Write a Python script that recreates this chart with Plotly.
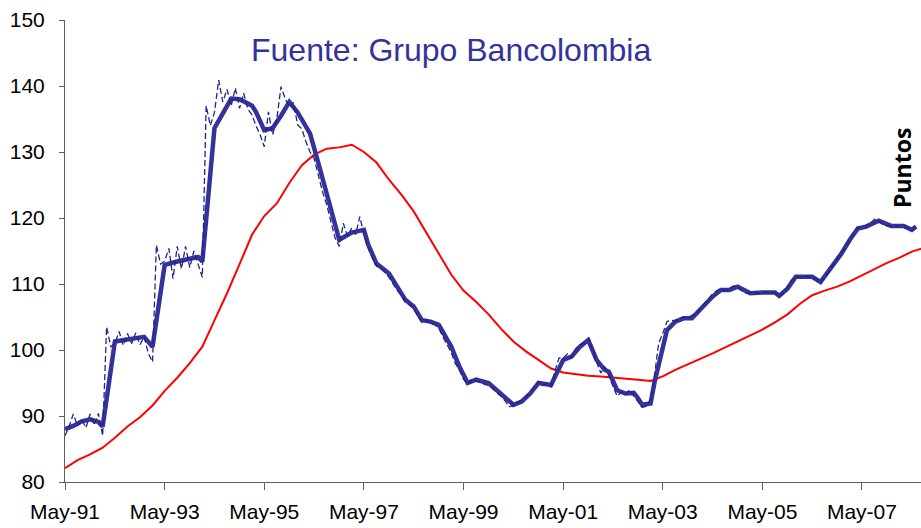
import pandas as pd
import plotly.graph_objects as go

# monthly index, dashed thin line (May-91 .. Jun-08)
mensual = [
    87.0, 88.5, 90.3, 88.5, 89.5, 88.2, 90.3, 88.6, 90.4, 87.0, 103.5, 100.5,
    101.0, 102.8, 100.7, 102.5, 101.0, 102.6, 100.8, 102.0, 99.5, 98.2, 115.9, 113.0,
    113.5, 115.4, 110.8, 115.7, 112.3, 115.7, 112.5, 115.0, 113.0, 111.0, 137.0, 134.0,
    136.0, 140.9, 137.6, 139.5, 137.0, 139.7, 136.6, 138.9, 136.5, 135.6, 134.0, 132.6,
    130.8, 136.1, 132.6, 135.0, 139.9, 138.1, 136.8, 137.5, 134.1, 133.5, 131.6, 130.0,
    129.0, 126.5, 124.0, 122.0, 119.5, 117.0, 115.7, 119.2, 117.2, 118.5, 117.5, 120.2,
    117.5, 115.5, 114.0, 112.7, 112.5, 111.8, 111.0, 110.0, 109.0, 108.3, 107.2, 106.8,
    106.3, 105.2, 104.2, 104.6, 104.0, 103.9, 103.3, 102.0, 100.8, 99.6, 98.0, 97.0,
    95.6, 94.8, 95.6, 95.3, 95.2, 94.8, 94.6, 94.2, 93.5, 93.0, 92.3, 91.4,
    91.6, 92.0, 92.4, 92.8, 93.6, 94.3, 95.2, 94.6, 94.9, 94.4, 96.8, 98.8,
    98.8, 99.4, 98.8, 100.2, 100.8, 101.0, 101.8, 100.2, 98.2, 96.5, 97.5, 96.2,
    94.5, 93.0, 93.6, 93.2, 94.0, 93.0, 92.2, 91.3, 91.5, 92.5, 96.0, 101.0,
    102.5, 104.3, 104.5, 104.4, 104.7, 105.0, 104.9, 105.2, 105.6, 106.3, 107.0, 107.9,
    108.5, 109.0, 109.3, 109.0, 109.3, 109.7, 109.6, 109.0, 108.6, 108.6, 108.8, 108.6,
    108.7, 108.8, 108.6, 108.7, 108.1, 108.6, 109.6, 110.6, 111.2, 111.0, 111.2, 111.1,
    111.1, 110.7, 110.2, 111.0, 112.0, 112.8, 113.8, 114.8, 115.6, 116.8, 117.8, 118.6,
    118.6, 118.9, 119.2, 119.8, 119.6, 119.0, 118.8, 118.8, 118.9, 118.7, 118.8, 118.5,
    118.1, 118.8,
]

# smoothed series, thick line
fechas_suav = [
    "1991-05", "1991-07", "1991-09", "1991-11", "1992-01", "1992-02", "1992-05", "1992-08",
    "1992-12", "1993-02", "1993-05", "1993-08", "1994-01", "1994-02", "1994-05", "1994-09",
    "1994-11", "1995-02", "1995-03", "1995-05", "1995-07", "1995-09", "1995-11", "1996-01",
    "1996-04", "1996-06", "1996-08", "1996-11", "1997-02", "1997-05", "1997-06", "1997-08",
    "1997-11", "1998-01", "1998-03", "1998-05", "1998-07", "1998-09", "1998-11", "1999-02",
    "1999-04", "1999-06", "1999-08", "1999-11", "2000-01", "2000-05", "2000-07", "2000-09",
    "2000-11", "2001-02", "2001-05", "2001-07", "2001-09", "2001-11", "2002-01", "2002-03",
    "2002-04", "2002-06", "2002-08", "2002-10", "2002-11", "2002-12", "2003-02", "2003-03",
    "2003-05", "2003-06", "2003-08", "2003-10", "2003-12", "2004-02", "2004-05", "2004-07",
    "2004-09", "2004-11", "2005-02", "2005-05", "2005-08", "2005-09", "2005-11", "2006-01",
    "2006-05", "2006-07", "2006-09", "2006-12", "2007-02", "2007-04", "2007-06", "2007-09",
    "2007-12", "2008-03", "2008-05", "2008-06",
]
suavizado = [
    88.0, 88.5, 89.2, 89.5, 89.1, 88.4, 101.3, 101.6,
    102.0, 100.5, 112.9, 113.4, 114.1, 113.4, 133.6, 138.1,
    138.0, 137.0, 136.1, 133.3, 133.6, 135.5, 137.6, 136.0,
    132.8, 128.3, 123.7, 116.7, 117.8, 118.2, 116.0, 113.1,
    111.6, 109.6, 107.6, 106.6, 104.5, 104.3, 103.8, 100.5,
    97.5, 95.0, 95.5, 95.0, 93.9, 91.7, 92.2, 93.4,
    95.0, 94.7, 98.5, 99.0, 100.5, 101.5, 98.5, 97.0,
    96.7, 93.9, 93.4, 93.5, 92.7, 91.7, 91.9, 95.0,
    100.3, 103.0, 104.3, 104.8, 104.8, 106.1, 108.1, 109.1,
    109.1, 109.6, 108.6, 108.7, 108.7, 108.2, 109.3, 111.1,
    111.1, 110.3, 112.1, 114.6, 116.7, 118.4, 118.7, 119.6,
    118.8, 118.8, 118.2, 118.7,
]

# long-term trend, red line (quarterly)
tendencia = [
    82.1, 83.3, 84.2, 85.2, 86.7, 88.4, 89.8, 91.6, 93.8, 95.8,
    98.0, 100.5, 104.5, 108.6, 113.0, 117.5, 120.3, 122.2, 125.3, 128.0,
    129.6, 130.5, 130.7, 131.1, 130.0, 128.4, 125.8, 123.5, 121.0, 117.8,
    114.5, 111.4, 109.0, 107.3, 105.4, 103.2, 101.3, 99.8, 98.5, 97.2,
    96.6, 96.3, 96.1, 96.0, 95.8, 95.6, 95.5, 95.3, 96.0, 97.0,
    97.8, 98.6, 99.5, 100.4, 101.3, 102.3, 103.1, 104.2, 105.4, 107.0,
    108.3, 109.0, 109.6, 110.4, 111.3, 112.2, 113.2, 114.0, 114.9, 115.5,
]

fechas_mes = pd.date_range("1991-05-01", periods=len(mensual), freq="MS")
fechas_trim = pd.date_range("1991-05-01", periods=len(tendencia), freq="3MS")
ticks = ["1991-05-01", "1993-05-01", "1995-05-01", "1997-05-01", "1999-05-01",
         "2001-05-01", "2003-05-01", "2005-05-01", "2007-05-01"]
tick_labels = ["May-91", "May-93", "May-95", "May-97", "May-99",
               "May-01", "May-03", "May-05", "May-07"]

azul = "#333399"
fuente = "Liberation Sans, Arial, sans-serif"

fig = go.Figure()
fig.add_trace(go.Scatter(x=fechas_trim, y=tendencia, mode="lines",
                         line=dict(color="#ff0000", width=2)))
fig.add_trace(go.Scatter(x=pd.to_datetime(fechas_suav), y=suavizado, mode="lines",
                         line=dict(color=azul, width=4.5)))
fig.add_trace(go.Scatter(x=fechas_mes, y=mensual, mode="lines",
                         line=dict(color="#23238c", width=1.3, dash="6px,3px")))

fig.add_annotation(text="Fuente: Grupo Bancolombia", xref="paper", yref="paper",
                   x=0.451, y=0.935, xanchor="center", yanchor="middle", showarrow=False,
                   font=dict(family=fuente, size=32, color=azul))
fig.add_annotation(text="<b>Puntos</b>", xref="paper", yref="paper",
                   x=0.978, y=0.68, xanchor="center", yanchor="middle",
                   showarrow=False, textangle=-90,
                   font=dict(family="Open Sans, sans-serif", size=23, color="black"))

fig.update_layout(
    width=921, height=528,
    margin=dict(l=65, r=0, t=20, b=46),
    plot_bgcolor="white", paper_bgcolor="white",
    showlegend=False,
    font=dict(family=fuente, size=21, color="black"),
)
fig.update_xaxes(range=["1991-05-01", "2008-07-07"], tickvals=ticks, ticktext=tick_labels,
                 showgrid=False, zeroline=False, showline=True, linecolor="#606060",
                 linewidth=1, ticks="outside", ticklen=7, tickcolor="#606060",
                 ticklabelstandoff=4, automargin=False)
fig.update_yaxes(range=[80, 150], dtick=10, showgrid=False, zeroline=False,
                 showline=True, linecolor="#606060", linewidth=1, ticks="outside",
                 ticklen=5, tickcolor="#606060", ticklabelstandoff=10, automargin=False)

# the page's default body margin would shift the figure by 8px
fig.write_html("out.html", config={"displayModeBar": False},
               post_script="document.body.style.margin='0px';document.body.style.overflow='hidden';")
